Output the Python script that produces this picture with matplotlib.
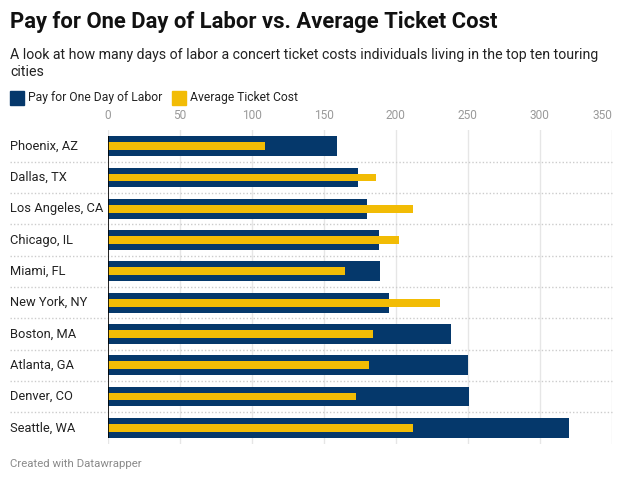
import matplotlib.pyplot as plt
from matplotlib.patches import Rectangle
import matplotlib.transforms as mtransforms

cities = ['Phoenix, AZ', 'Dallas, TX', 'Los Angeles, CA', 'Chicago, IL', 'Miami, FL',
          'New York, NY', 'Boston, MA', 'Atlanta, GA', 'Denver, CO', 'Seattle, WA']
pay = [159, 173.6, 180, 188.2, 189, 195, 238, 250, 251, 320.5]
ticket = [109, 186, 212, 202, 165, 231, 184.5, 181.7, 172.7, 211.6]
xticks = [0, 50, 100, 150, 200, 250, 300, 350]

BLUE = '#05386b'
YELLOW = '#f2bc05'

plt.rcParams.update({'font.family': ['Roboto', 'DejaVu Sans']})

W, H = 622, 482
fig = plt.figure(figsize=(W / 100, H / 100), dpi=100)


def fx(px):
    return px / W


def fy(py):
    return 1 - py / H


# plot area in pixels
left, right = 107.5, 612
top, bottom = 130.5, 443.5
ax = fig.add_axes([fx(left), fy(bottom), fx(right - left), (bottom - top) / H])

y = list(range(len(cities)))
ax.barh(y, pay, height=0.63, color=BLUE, zorder=3)
ax.barh(y, ticket, height=0.25, color=YELLOW, zorder=4)

ax.set_xlim(0, 350)
ax.set_ylim(len(cities) - 0.5, -0.5)
ax.set_xticks(xticks)
ax.xaxis.tick_top()
ax.tick_params(axis='x', length=0, pad=6, labelsize=8.6, labelcolor='#9a9a9a')
# last tick label sits inside the chart edge
ax.get_xticklabels()[-1].set_horizontalalignment('right')
ax.get_xticklabels()[-1].set_x(350)
ax.set_yticks([])
for s in ax.spines.values():
    s.set_visible(False)
ax.grid(axis='x', color='#e6e6e6', linewidth=1, zorder=0)
ax.set_axisbelow(True)

# black baseline at zero
ax.vlines(0, -0.32, len(cities) - 1 + 0.32, color='black', linewidth=1.2, zorder=5)

# dotted row separators across the full width
trans = mtransforms.blended_transform_factory(fig.transFigure, ax.transData)
for i in range(len(cities) - 1):
    ax.plot([fx(10), fx(612)], [i + 0.5, i + 0.5], transform=trans, color='#cccccc',
            linestyle=(0, (1, 1.5)), linewidth=1, clip_on=False, zorder=1)

# row labels
for i, c in enumerate(cities):
    ax.text(fx(10), i, c, transform=trans, ha='left', va='center', fontsize=9.3, color='#222222')

# titles
fig.text(fx(10), fy(22), 'Pay for One Day of Labor vs. Average Ticket Cost', fontsize=15.8,
         fontweight='bold', color='#111111', ha='left', va='center')
fig.text(fx(10), fy(55), 'A look at how many days of labor a concert ticket costs individuals living in the top ten touring',
         fontsize=10.2, color='#222222', ha='left', va='center')
fig.text(fx(10), fy(72), 'cities', fontsize=10.2, color='#222222', ha='left', va='center')

# legend
for x0, col, lab in [(10, BLUE, 'Pay for One Day of Labor'), (172, YELLOW, 'Average Ticket Cost')]:
    fig.patches.append(Rectangle((fx(x0), fy(105)), fx(14), 14 / H, color=col,
                                 transform=fig.transFigure, figure=fig))
    fig.text(fx(x0 + 18), fy(98), lab, fontsize=8.7, color='#222222', ha='left', va='center')

fig.text(fx(10), fy(464), 'Created with Datawrapper', fontsize=8.2, color='#8a8a8a',
         ha='left', va='center')

fig.savefig('out.png', dpi=100)
